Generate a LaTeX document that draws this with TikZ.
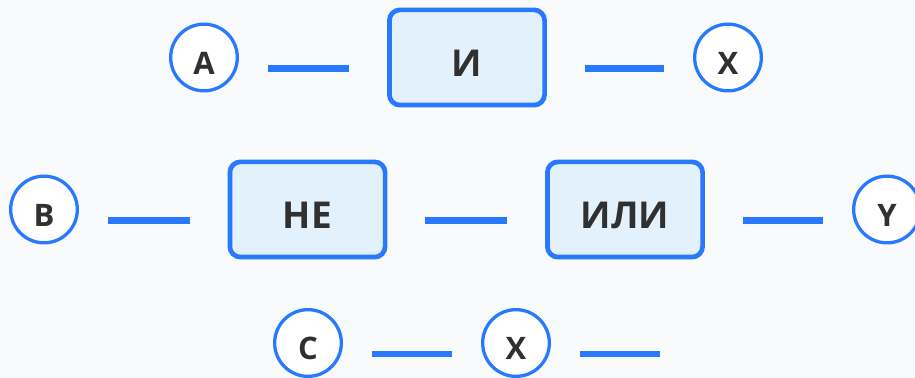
\documentclass[tikz,border=0pt]{standalone}
\usepackage{fontspec}
\setmainfont{Open Sans}
\usepackage{xcolor}
\usepackage{tikz}
\usetikzlibrary{positioning, calc}
\definecolor{wireblue}{RGB}{41, 121, 255}
\definecolor{gatefill}{RGB}{227, 241, 253}
\definecolor{textdark}{RGB}{48, 48, 48}
\definecolor{pagebg}{RGB}{248, 250, 252}

\tikzset{
    gatebox/.style={draw=wireblue, line width=2.35pt, fill=gatefill, rounded corners=5.25pt,
        minimum width=77.6pt, minimum height=47.6pt, text=textdark,
        font=\fontsize{18.5}{18.5}\selectfont\bfseries, text height=19.2pt, text depth=0pt},
    signal/.style={circle, draw=wireblue, line width=1.65pt, fill=white, minimum size=33.35pt,
        inner sep=0pt, text=textdark,
        font=\fontsize{15.5}{15.5}\selectfont\bfseries, text height=17pt, text depth=0pt},
    wire/.style={draw=wireblue, line width=3.25pt, transform canvas={yshift=-5.5pt}},
    fromcirc/.style={shorten <=14.5pt},
    tocirc/.style={shorten >=14.5pt},
    frombox/.style={shorten <=19pt},
    tobox/.style={shorten >=19pt}
}

\begin{document}
\begin{tikzpicture}[x=0.5pt, y=-0.5pt]
        \clip (0,0) rectangle (915,378);
        \fill[pagebg] (0,0) rectangle (915,378);

        % first row
        \node[signal] (inA) at (204,57.5) {A};
        \node[gatebox] (gateAnd) at (467,57.5) {И};
        \node[signal] (outX) at (728,57.5) {X};

        % second row
        \node[signal] (inB) at (44,209.5) {B};
        \node[gatebox] (gateNot) at (307.5,209.5) {НЕ};
        \node[gatebox] (gateOr) at (625,209.5) {ИЛИ};
        \node[signal] (outY) at (887,209.5) {Y};

        % third row
        \node[signal] (inC) at (308,343) {C};
        \node[signal] (inX) at (516,343) {X};
        \coordinate (tail) at (660,343);

        \draw[wire, fromcirc, tobox] (inA) -- (gateAnd);
        \draw[wire, frombox, tocirc] (gateAnd) -- (outX);
        \draw[wire, fromcirc, tobox] (inB) -- (gateNot);
        \draw[wire, frombox, tobox] (gateNot) -- (gateOr);
        \draw[wire, frombox, tocirc] (gateOr) -- (outY);
        \draw[wire, fromcirc, tocirc] (inC) -- (inX);
        \draw[wire, fromcirc] (inX) -- (tail);
    \end{tikzpicture}
\end{document}
